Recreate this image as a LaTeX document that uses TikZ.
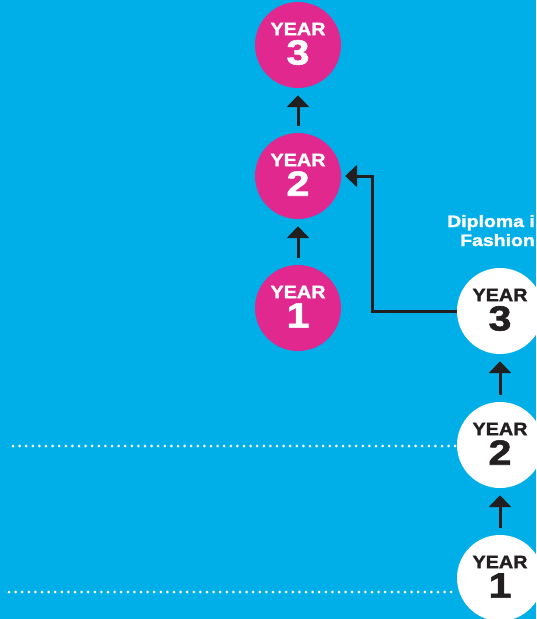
\documentclass[tikz,border=0pt]{standalone}
\usepackage{fontspec}
\setmainfont{Liberation Sans}
\newfontfamily\widefont[FakeStretch=1.18,FakeBold=1.6]{Liberation Sans}
\newfontfamily\yearfont[FakeStretch=1.1,FakeBold=1.6]{Liberation Sans}
\usetikzlibrary{arrows.meta,calc}
\definecolor{bgcyan}{RGB}{0,175,232}
\definecolor{hotpink}{RGB}{224,40,142}
\definecolor{arrowdark}{RGB}{35,31,32}
\definecolor{numdark}{RGB}{35,31,32}
\tikzset{
  pinkdot/.style={circle,fill=hotpink,minimum size=86pt,inner sep=0pt},
  whitedot/.style={circle,fill=white,minimum size=86pt,inner sep=0pt},
  yeartxt/.style={inner sep=0pt,font=\yearfont\bfseries\fontsize{18}{18}\selectfont},
  numtxt/.style={inner sep=0pt,font=\widefont\bfseries\fontsize{35}{35}\selectfont},
  uparrow/.style={arrowdark,line width=3pt,-{Triangle[width=22pt,length=12pt]},shorten <=7pt,shorten >=7pt},
  elbow/.style={arrowdark,line width=3pt,-{Triangle[width=22pt,length=12pt]},shorten >=4pt},
  dotline/.style={white,line width=3pt,line cap=round,dash pattern=on 0pt off 6.6pt},
  dipl/.style={white,inner sep=0pt,anchor=base west,font=\widefont\bfseries\fontsize{16.5}{16.5}\selectfont}
}
\begin{document}
\begin{tikzpicture}[x=1pt,y=-1pt]
\useasboundingbox (0,0) rectangle (536,619);
\fill[bgcyan] (0,0) rectangle (536,619);
\clip (0,0) rectangle (536,619);
% dotted lines
\coordinate (d2s) at (13,446);
\coordinate (d1s) at (9,592);
% pink circles
\node[pinkdot] (p3) at (298,45) {};
\node[pinkdot] (p2) at (298,176) {};
\node[pinkdot] (p1) at (298,308) {};
% white circles
\node[whitedot] (w3) at (500,311) {};
\node[whitedot] (w2) at (500,445) {};
\node[whitedot] (w1) at (500,578) {};
\draw[dotline] (d2s) -- (d2s -| w2.west);
\draw[dotline] (d1s) -- (d1s -| w1.west);
% labels
\foreach \c/\n/\col in {p3/3/white,p2/2/white,p1/1/white,w3/3/numdark,w2/2/numdark,w1/1/numdark}{
  \node[yeartxt,text=\col] (\c y) at ($(\c)+(0,-16)$) {YEAR};
  \node[numtxt,text=\col] (\c n) at ($(\c)+(0,7.5)$) {\n};
}
% arrows
\draw[uparrow] (p1.north) -- (p2.south);
\draw[uparrow] (p2.north) -- (p3.south);
\draw[uparrow] (w1.north) -- (w2.south);
\draw[uparrow] (w2.north) -- (w3.south);
\draw[elbow] (w3.west) -- ++(-84,0) |- (p2.east);
% diploma text
\node[dipl] (dip1) at (447,227) {Diploma i};
\node[dipl] (dip2) at (460,246) {Fashion};
\end{tikzpicture}
\end{document}
